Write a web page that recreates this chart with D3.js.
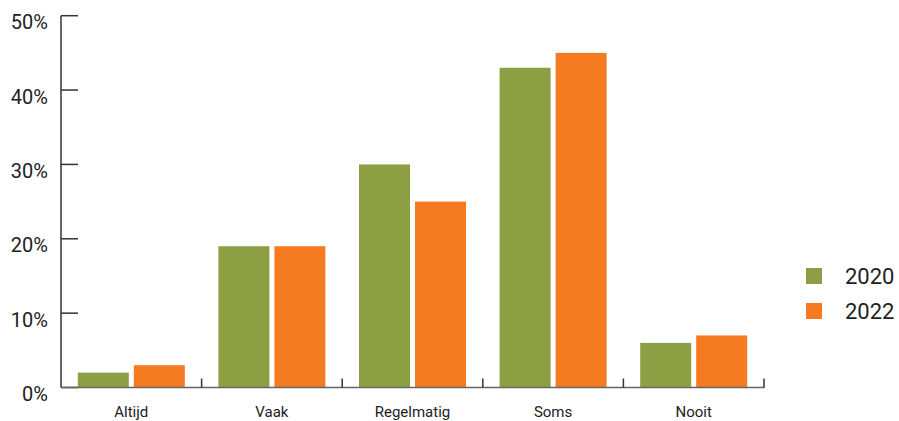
<!DOCTYPE html>
<html><head><meta charset="utf-8">
<script src="https://cdn.jsdelivr.net/npm/d3@7"></script>
<style>body{margin:0;background:#fff}svg{display:block;font-family:Roboto,"Noto Sans",sans-serif}</style>
</head><body><svg id="c" width="899" height="421"></svg>
<script>
const categories = ["Altijd","Vaak","Regelmatig","Soms","Nooit"];
const series = ["2020","2022"];
const values2020 = [2,19,30,43,6];
const values2022 = [3,19,25,45,7];
const yTicks = [0,10,20,30,40,50];
const colors = ["#8ca043","#f47b20"];

const svg = d3.select("#c");
const x0 = d3.scaleBand().domain(categories).range([61,764]).padding(0);
const x1 = d3.scaleBand().domain(series).range([16.8, x0.bandwidth()-16.8]).paddingInner(5/56).paddingOuter(0);
const y = d3.scaleLinear().domain([0,50]).range([387.5,15.7]);
const data = [values2020, values2022];

// bars
categories.forEach((c,i)=>{
  series.forEach((s,j)=>{
    svg.append("rect")
      .attr("x", x0(c)+x1(s))
      .attr("y", y(data[j][i]))
      .attr("width", x1.bandwidth())
      .attr("height", y(0)-y(data[j][i]))
      .attr("fill", colors[j]);
  });
});

// y axis
svg.append("line").attr("x1",61).attr("x2",61).attr("y1",y(50)).attr("y2",y(0)).attr("stroke","#333").attr("stroke-width",1.5);
yTicks.forEach(t=>{
  svg.append("line").attr("x1",61).attr("x2",78).attr("y1",y(t)).attr("y2",y(t)).attr("stroke","#333").attr("stroke-width",1.5);
  svg.append("text").attr("x",48).attr("y", y(t)+6.5)
    .attr("text-anchor","end").attr("dominant-baseline","central")
    .attr("font-size",20).attr("fill","#222").text(t+"%");
});

// x baseline
svg.append("line").attr("x1",61).attr("x2",764.5).attr("y1",y(0)).attr("y2",y(0)).attr("stroke","#666").attr("stroke-width",1.5);
const bounds = categories.map(c=>x0(c)+x0.bandwidth());
bounds.forEach(b=>{
  svg.append("line").attr("x1",b).attr("x2",b).attr("y1",y(0)).attr("y2",y(0)-9).attr("stroke","#333").attr("stroke-width",1.5);
});
categories.forEach(c=>{
  svg.append("text").attr("x",x0(c)+x0.bandwidth()/2).attr("y",412)
    .attr("text-anchor","middle").attr("dominant-baseline","central")
    .attr("font-size",15).attr("fill","#222").text(c);
});

// legend
series.forEach((s,j)=>{
  const ly = 276 + j*35;
  svg.append("rect").attr("x",806).attr("y",ly-8).attr("width",16).attr("height",16).attr("fill",colors[j]);
  svg.append("text").attr("x",845).attr("y",ly).attr("dominant-baseline","central")
    .attr("font-size",22).attr("fill","#222").text(s);
});
</script></body></html>
